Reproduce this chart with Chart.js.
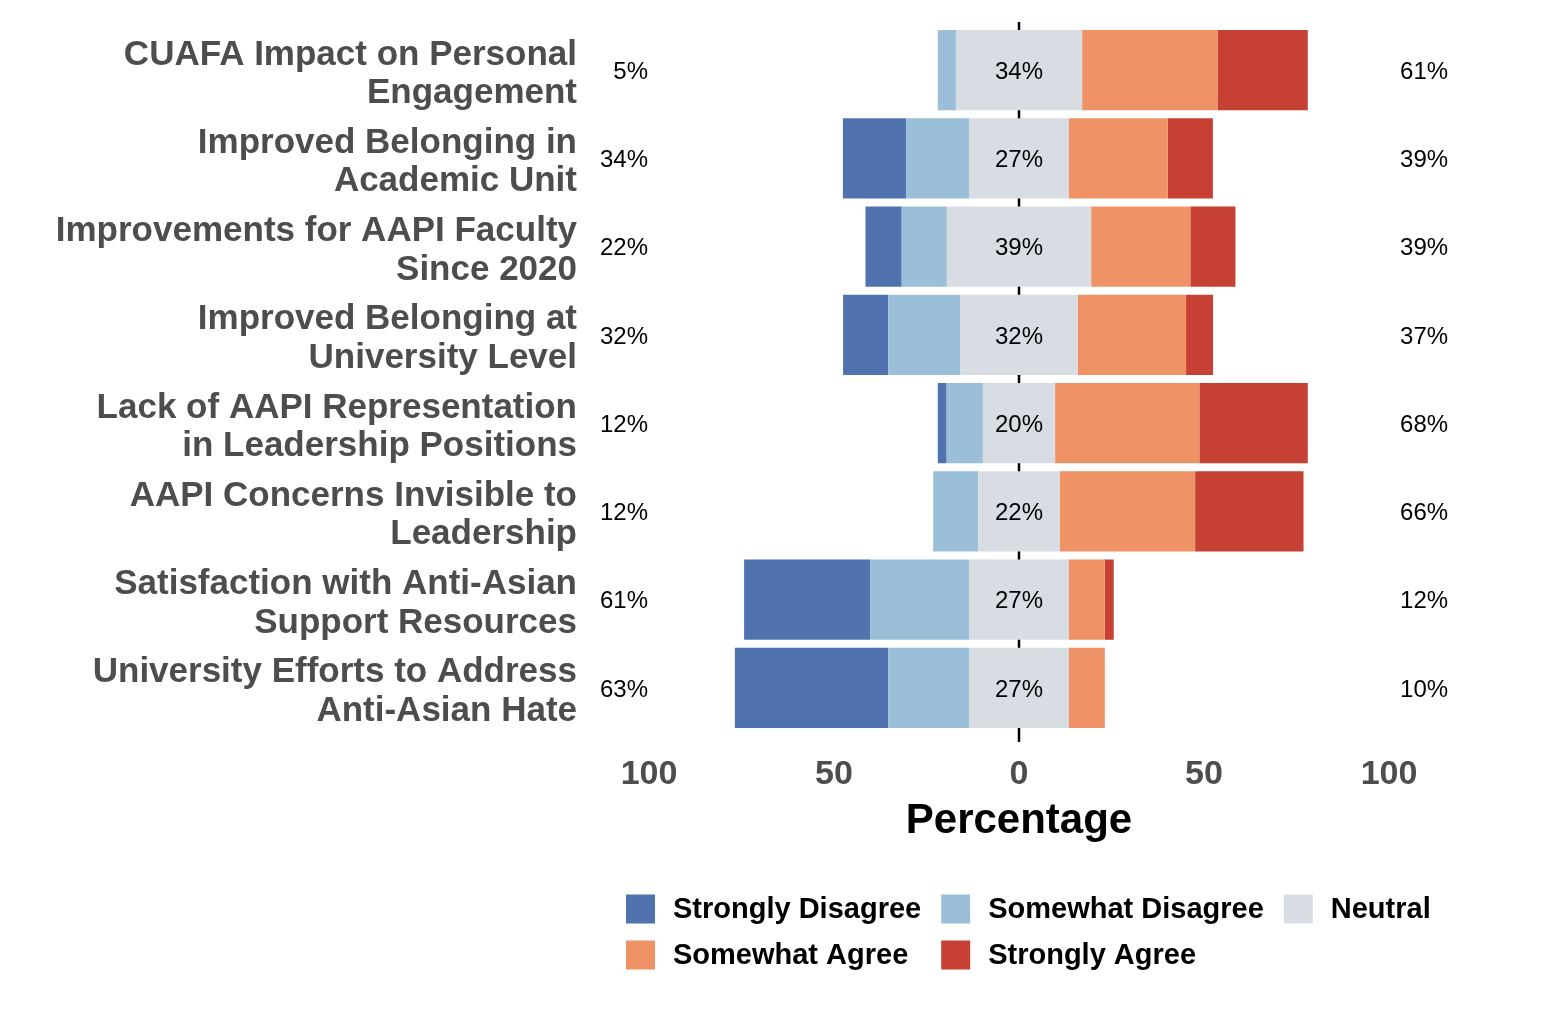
<!DOCTYPE html>
<html>
<head>
<meta charset="utf-8">
<script src="https://cdn.jsdelivr.net/npm/chart.js@4.4.1/dist/chart.umd.min.js"></script>
<style>
  html, body { margin: 0; padding: 0; background: #ffffff; }
  #wrap { width: 1562px; height: 1014px; position: relative; }
</style>
</head>
<body>
<div id="wrap"><canvas id="myChart"></canvas></div>
<script>
// questions, top to bottom
const categories = [
  ["CUAFA Impact on Personal", "Engagement"],
  ["Improved Belonging in", "Academic Unit"],
  ["Improvements for AAPI Faculty", "Since 2020"],
  ["Improved Belonging at", "University Level"],
  ["Lack of AAPI Representation", "in Leadership Positions"],
  ["AAPI Concerns Invisible to", "Leadership"],
  ["Satisfaction with Anti-Asian", "Support Resources"],
  ["University Efforts to Address", "Anti-Asian Hate"],
];

// percent of respondents per answer
const stronglyDisagree = [0, 17.1, 9.8, 12.2, 2.4, 0, 34.1, 41.5];
const somewhatDisagree = [4.9, 17.1, 12.2, 19.5, 9.8, 12.2, 26.8, 21.9];
const neutral = [34.1, 26.8, 39.0, 31.7, 19.5, 22.0, 26.8, 26.8];
const somewhatAgree = [36.6, 26.8, 26.8, 29.3, 39.0, 36.6, 9.8, 9.8];
const stronglyAgree = [24.4, 12.2, 12.2, 7.3, 29.3, 29.3, 2.4, 0];

const xTicks = [-100, -50, 0, 50, 100];

const legendNames = ["Strongly Disagree", "Somewhat Disagree", "Neutral", "Somewhat Agree", "Strongly Agree"];
const colors = ["#5073b0", "#9bbfd9", "#d8dde3", "#ef9366", "#c64133"];

const greyText = "#4d4d4d";
const fontName = "'Liberation Sans', Arial, Helvetica, sans-serif";

// neutral is split around zero
const neutralLow = neutral.map((v) => -v / 2);
const neutralHigh = neutral.map((v) => v / 2);
const sdNeg = stronglyDisagree.map((v) => -v);
const sodNeg = somewhatDisagree.map((v) => -v);

function pct(v) {
  return Math.round(v) + "%";
}

const likertText = {
  id: "likertText",
  beforeDatasetsDraw(chart) {
    const { ctx, chartArea, scales } = chart;
    const x0 = scales.x.getPixelForValue(0);
    ctx.save();
    ctx.strokeStyle = "#000000";
    ctx.lineWidth = 2.5;
    ctx.beginPath();
    ctx.moveTo(x0, chartArea.top - 4);
    ctx.lineTo(x0, chartArea.bottom + 10);
    ctx.stroke();
    ctx.restore();
  },
  afterDatasetsDraw(chart) {
    const { ctx, scales } = chart;
    const x = scales.x;
    const y = scales.y;
    ctx.save();
    ctx.font = "24px " + fontName;
    ctx.fillStyle = "#000000";
    ctx.textBaseline = "middle";
    categories.forEach((c, i) => {
      const py = y.getPixelForValue(i) + 2;
      const low = stronglyDisagree[i] + somewhatDisagree[i];
      const high = somewhatAgree[i] + stronglyAgree[i];
      ctx.textAlign = "right";
      ctx.fillText(pct(low), x.getPixelForValue(-100) - 1, py);
      ctx.textAlign = "center";
      ctx.fillText(pct(neutral[i]), x.getPixelForValue(0), py);
      ctx.textAlign = "left";
      ctx.fillText(pct(high), x.getPixelForValue(103), py);
    });
    ctx.restore();
  },
  afterDraw(chart) {
    // legend in two rows, three columns
    const { ctx } = chart;
    ctx.save();
    ctx.font = "bold 29px " + fontName;
    ctx.textBaseline = "middle";
    ctx.textAlign = "left";
    const perRow = 3;
    const box = 29;
    const gap = 18;
    const colGap = 20;
    const colW = [];
    legendNames.forEach((n, i) => {
      const c = i % perRow;
      colW[c] = Math.max(colW[c] || 0, ctx.measureText(n).width);
    });
    const startX = 626;
    const rowY = [909, 955];
    legendNames.forEach((n, i) => {
      const c = i % perRow;
      const r = Math.floor(i / perRow);
      let px = startX;
      for (let k = 0; k < c; k++) px += box + gap + colW[k] + colGap;
      ctx.fillStyle = colors[i];
      ctx.fillRect(px, rowY[r] - box / 2, box, box);
      ctx.fillStyle = "#000000";
      ctx.fillText(n, px + box + gap, rowY[r] + 1);
    });
    ctx.restore();
  },
};

const bars = document.getElementById("myChart");

new Chart(bars, {
  type: "bar",
  data: {
    labels: categories,
    datasets: [
      { label: "Neutral", data: neutralLow, backgroundColor: colors[2] },
      { label: "Neutral", data: neutralHigh, backgroundColor: colors[2] },
      { label: "Somewhat Disagree", data: sodNeg, backgroundColor: colors[1] },
      { label: "Somewhat Agree", data: somewhatAgree, backgroundColor: colors[3] },
      { label: "Strongly Disagree", data: sdNeg, backgroundColor: colors[0] },
      { label: "Strongly Agree", data: stronglyAgree, backgroundColor: colors[4] },
    ],
  },
  options: {
    indexAxis: "y",
    responsive: true,
    maintainAspectRatio: false,
    animation: false,
    layout: {
      padding: { left: 0, right: 173, top: 26, bottom: 162 },
    },
    datasets: {
      bar: {
        barPercentage: 0.91,
        categoryPercentage: 1,
        borderWidth: 0,
      },
    },
    scales: {
      x: {
        stacked: true,
        min: -100,
        max: 100,
        afterBuildTicks: (scale) => {
          scale.ticks = xTicks.map((v) => ({ value: v }));
        },
        afterFit: (scale) => {
          scale.height = 120;
        },
        grid: { display: false, drawTicks: false },
        border: { display: false },
        ticks: {
          padding: 22,
          color: greyText,
          font: { family: fontName, size: 34, weight: "bold" },
          callback: (v) => Math.abs(v),
        },
        title: {
          display: true,
          text: "Percentage",
          color: "#000000",
          padding: { top: 0, bottom: 5 },
          font: { family: fontName, size: 42, weight: "bold" },
        },
      },
      y: {
        stacked: true,
        afterFit: (scale) => {
          scale.width = 649;
          scale.paddingTop = 0;
          scale.paddingBottom = 0;
        },
        grid: { display: false, drawTicks: false },
        border: { display: false },
        ticks: {
          padding: 72,
          labelOffset: 4,
          autoSkip: false,
          color: greyText,
          font: { family: fontName, size: 35, weight: "bold", lineHeight: 1.1 },
        },
      },
    },
    plugins: {
      legend: { display: false },
      tooltip: { enabled: false },
    },
  },
  plugins: [likertText],
});
</script>
</body>
</html>
